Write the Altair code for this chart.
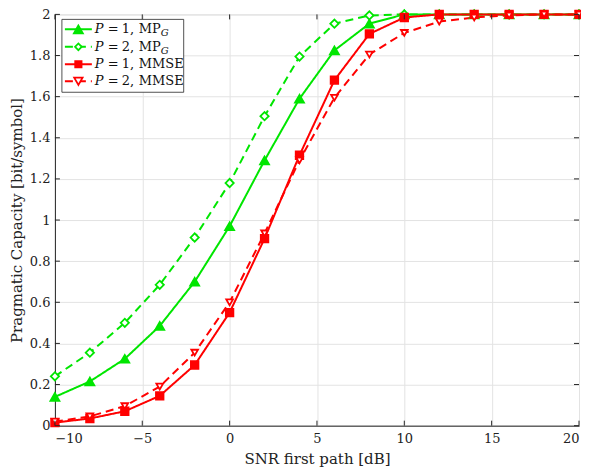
import altair as alt
import pandas as pd

snr = [-10, -8, -6, -4, -2, 0, 2, 4, 6, 8, 10, 12, 14, 16, 18, 20]
series_names = ["P1_MPG", "P2_MPG", "P1_MMSE", "P2_MMSE"]
mpg_p1 = [0.14, 0.215, 0.325, 0.485, 0.70, 0.97, 1.29, 1.59, 1.825, 1.955, 2.0, 2.0, 2.0, 2.0, 2.0, 2.0]
mpg_p2 = [0.24, 0.355, 0.50, 0.685, 0.915, 1.18, 1.505, 1.795, 1.955, 1.995, 2.0, 2.0, 2.0, 2.0, 2.0, 2.0]
mmse_p1 = [0.015, 0.035, 0.07, 0.145, 0.295, 0.55, 0.91, 1.315, 1.68, 1.905, 1.985, 2.0, 2.0, 2.0, 2.0, 2.0]
mmse_p2 = [0.02, 0.045, 0.095, 0.19, 0.355, 0.60, 0.935, 1.29, 1.595, 1.805, 1.91, 1.965, 1.985, 1.995, 2.0, 2.0]
x_ticks = [-10, -5, 0, 5, 10, 15, 20]
y_ticks = [0, 0.2, 0.4, 0.6, 0.8, 1.0, 1.2, 1.4, 1.6, 1.8, 2.0]
legend_digits = ["1,", "2,", "1,", "2,"]
legend_methods = ["MP", "MP", "MMSE", "MMSE"]
legend_subs = ["G", "G", "", ""]

GREEN = "#00e600"
RED = "#ff0000"
colors = [GREEN, GREEN, RED, RED]
fills = [GREEN, "white", RED, "white"]
shapes = ["triangle-up", "diamond", "square", "triangle-down"]
sizes = [80, 45, 40, 70]
dashes = [[1, 0], [8, 5], [1, 0], [8, 5]]

W, H = 525, 412
FONT = "DejaVu Serif"

rows = []
for name, vals in zip(series_names, [mpg_p1, mpg_p2, mmse_p1, mmse_p2]):
    for xv, yv in zip(snr, vals):
        rows.append({"snr": xv, "cap": yv, "series": name})
df = pd.DataFrame(rows)

xs = alt.Scale(domain=[-10, 20], nice=False)
ys = alt.Scale(domain=[0, 2], nice=False)
col = alt.Color("series:N", scale=alt.Scale(domain=series_names, range=colors), legend=None, sort=series_names)
dash = alt.StrokeDash("series:N", scale=alt.Scale(domain=series_names, range=dashes), legend=None)

xaxis = alt.Axis(values=x_ticks, grid=True, gridColor="#e3e3e3", ticks=False, tickSize=0,
                 labelFont=FONT, labelFontSize=13, labelColor="#222", labelPadding=7,
                 domainColor="#262626", title="SNR first path [dB]", titleFont=FONT,
                 titleFontSize=15, titleFontWeight="normal", titleColor="#222", titlePadding=6)
yaxis = alt.Axis(values=y_ticks, format="~g", grid=True, gridColor="#e3e3e3", ticks=False, tickSize=0,
                 labelFont=FONT, labelFontSize=13, labelColor="#222", labelPadding=5,
                 domainColor="#262626", title="Pragmatic Capacity [bit/symbol]", titleFont=FONT,
                 titleFontSize=15, titleFontWeight="normal", titleColor="#222", titlePadding=5)

base = alt.Chart(df)
lines = base.mark_line(strokeWidth=2).encode(
    x=alt.X("snr:Q", scale=xs, axis=xaxis),
    y=alt.Y("cap:Q", scale=ys, axis=yaxis),
    color=col, strokeDash=dash, order=alt.Order("snr:Q"),
)
points = base.mark_point(strokeWidth=1.8, opacity=1, fillOpacity=1).encode(
    x=alt.X("snr:Q", scale=xs),
    y=alt.Y("cap:Q", scale=ys),
    color=col,
    fill=alt.Fill("series:N", scale=alt.Scale(domain=series_names, range=fills), legend=None),
    shape=alt.Shape("series:N", scale=alt.Scale(domain=series_names, range=shapes), legend=None),
    size=alt.Size("series:N", scale=alt.Scale(domain=series_names, range=sizes), legend=None),
)

# inward ticks
xt = pd.DataFrame({"t": x_ticks})
yt = pd.DataFrame({"t": y_ticks})
tk = dict(color="#262626", strokeWidth=1)
tick_layers = [
    alt.Chart(xt).mark_rule(**tk).encode(x=alt.X("t:Q", scale=xs), y=alt.value(H), y2=alt.value(H - 5)),
    alt.Chart(xt).mark_rule(**tk).encode(x=alt.X("t:Q", scale=xs), y=alt.value(0), y2=alt.value(5)),
    alt.Chart(yt).mark_rule(**tk).encode(y=alt.Y("t:Q", scale=ys), x=alt.value(0), x2=alt.value(5)),
    alt.Chart(yt).mark_rule(**tk).encode(y=alt.Y("t:Q", scale=ys), x=alt.value(W), x2=alt.value(W - 5)),
]

# legend
one = pd.DataFrame({"k": [0]})
leg_layers = [
    alt.Chart(one).mark_rect(fill="white", stroke="#262626", strokeWidth=0.8).encode(
        x=alt.value(7), x2=alt.value(129), y=alt.value(5), y2=alt.value(78))
]
ly = [15, 32.5, 50, 67]
for i in range(4):
    yy = ly[i]
    leg_layers.append(alt.Chart(one).mark_rule(color=colors[i], strokeWidth=2, strokeDash=dashes[i]).encode(
        x=alt.value(10), x2=alt.value(37), y=alt.value(yy)))
    leg_layers.append(alt.Chart(one).mark_point(shape=shapes[i], size=sizes[i], color=colors[i], fill=fills[i],
                                                 strokeWidth=1.8, opacity=1, fillOpacity=1).encode(
        x=alt.value(23.5), y=alt.value(yy)))
    tx = dict(font=FONT, fontSize=13, baseline="middle", align="left", color="#111")
    leg_layers.append(alt.Chart(one).mark_text(fontStyle="italic", **tx).encode(
        x=alt.value(40), y=alt.value(yy), text=alt.value("P")))
    leg_layers.append(alt.Chart(one).mark_text(**tx).encode(
        x=alt.value(53), y=alt.value(yy), text=alt.value("=")))
    leg_layers.append(alt.Chart(one).mark_text(**tx).encode(
        x=alt.value(67), y=alt.value(yy), text=alt.value(legend_digits[i])))
    leg_layers.append(alt.Chart(one).mark_text(**tx).encode(
        x=alt.value(84), y=alt.value(yy), text=alt.value(legend_methods[i])))
    if legend_subs[i]:
        leg_layers.append(alt.Chart(one).mark_text(font=FONT, fontSize=10, fontStyle="italic", baseline="middle",
                                                    align="left", color="#111").encode(
            x=alt.value(106), y=alt.value(yy + 4), text=alt.value(legend_subs[i])))

chart = alt.layer(lines, points, *tick_layers, *leg_layers).properties(
    width=W, height=H,
    autosize=alt.AutoSizeParams(type="none"),
    padding={"left": 47, "top": 6, "right": 2, "bottom": 44},
).configure_view(stroke="#262626", strokeWidth=1).configure(background="white")

chart.save("out.html", embed_options={"renderer": "svg", "actions": False})
